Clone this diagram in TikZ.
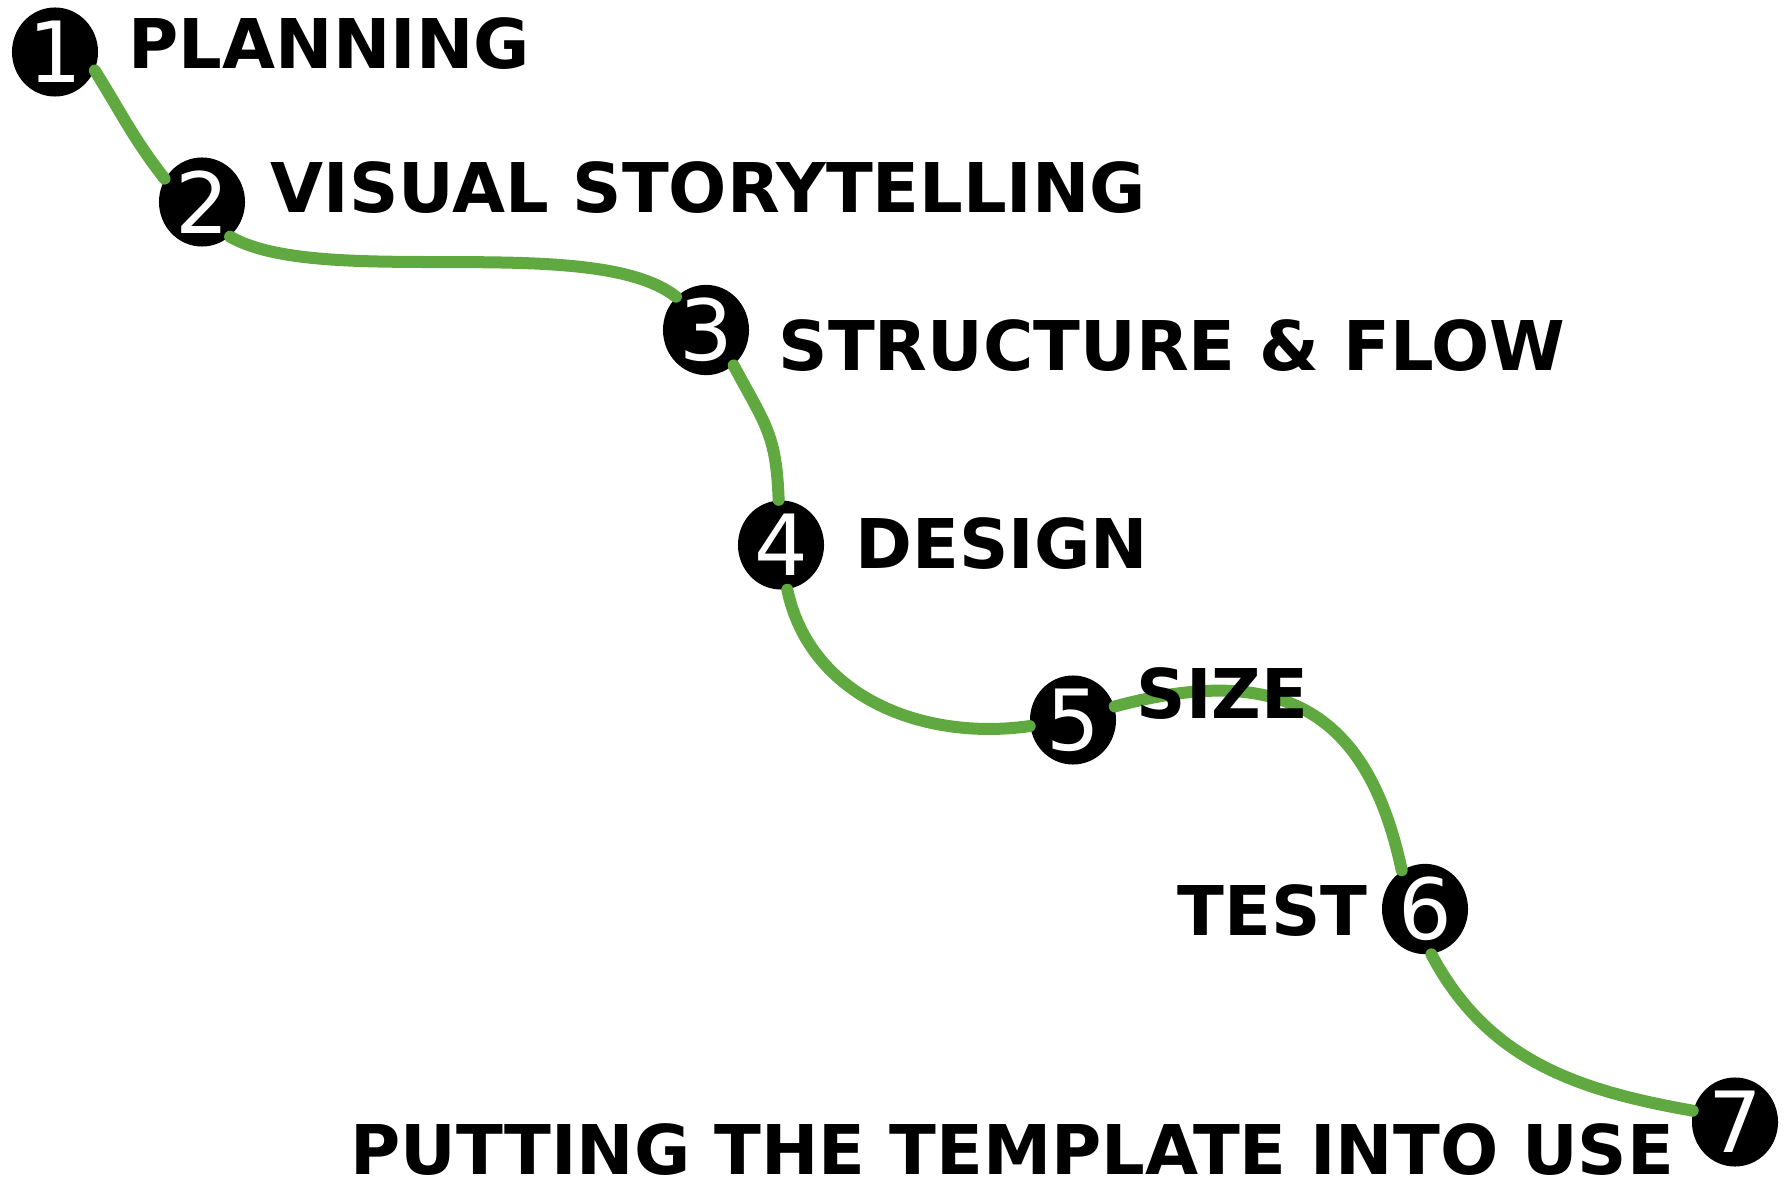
\documentclass[tikz,border=0pt]{standalone}
\usepackage{fontspec}
\setmainfont{DejaVu Sans}
\newfontfamily\stepfont{DejaVu Sans Bold}
\usetikzlibrary{positioning,shapes.geometric}
\definecolor{routegreen}{RGB}{96,168,64}

\begin{document}
\begin{tikzpicture}[x=0.01cm,y=0.01cm,
    stepdot/.style={ellipse,fill=black,minimum width=0.86cm,minimum height=0.89cm,inner sep=0pt,
        text=white,font=\fontsize{24}{24}\selectfont},
    steplabel/.style={inner sep=0pt,text height=14.2pt,text depth=0pt,
        font=\stepfont\fontsize{19.5}{20}\selectfont},
    route/.style={routegreen,line width=0.12cm,line cap=round}]
    \useasboundingbox (0,0) rectangle (1787,-1188);
    % the seven stops
    \node[stepdot] (s1) at (55,-52) {1};
    \node[stepdot] (s2) at (202,-202) {2};
    \node[stepdot] (s3) at (706,-330) {3};
    \node[stepdot] (s4) at (781,-545) {4};
    \node[stepdot] (s5) at (1073,-720) {5};
    \node[stepdot] (s6) at (1425,-909) {6};
    \node[stepdot] (s7) at (1735,-1122) {7};
    % the road between them
    \draw[route] (s1.-25) to[out=-58,in=128] (s2.148);
    \draw[route] (s2.-51) to[out=-30,in=142,looseness=0.6] (s3.132);
    \draw[route] (s3.-52) to[out=-62,in=92,looseness=1.2] (s4.93);
    \draw[route] (s4.-82) to[out=-78,in=188] (s5.188);
    \draw[route] (s5.18) to[out=15,in=102,looseness=1.3] (s6.121);
    \draw[route] (s6.-82) to[out=-62,in=170] (s7.165);
    % labels
    \node[steplabel,anchor=west] (t1) at (128,-44) {PLANNING};
    \node[steplabel,anchor=west] (t2) at (270,-188) {VISUAL STORYTELLING};
    \node[steplabel,anchor=west] (t3) at (778,-346) {STRUCTURE \& FLOW};
    \node[steplabel,anchor=west] (t4) at (855,-544) {DESIGN};
    \node[steplabel,anchor=west] (t5) at (1136,-694) {SIZE};
    \node[steplabel,anchor=east] (t6) at (1368,-911) {TEST};
    \node[steplabel,anchor=east] (t7) at (1675,-1150) {PUTTING THE TEMPLATE INTO USE};
\end{tikzpicture}
\end{document}
